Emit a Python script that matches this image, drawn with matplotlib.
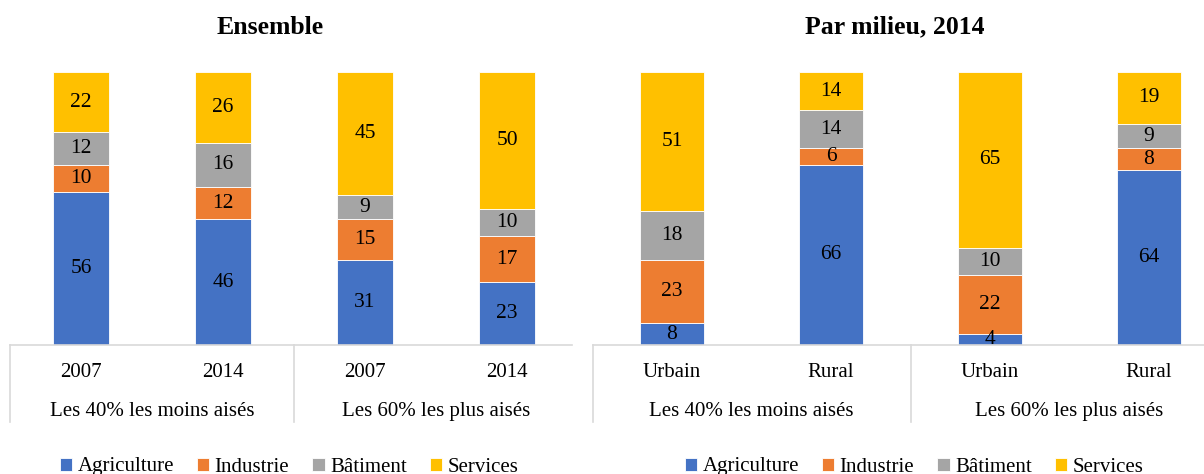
import matplotlib.pyplot as plt
import numpy as np

plt.rcParams['font.family'] = ['Liberation Serif', 'DejaVu Serif']

sectors = ['Agriculture', 'Industrie', 'Bâtiment', 'Services']
colors = ['#4472C4', '#ED7D31', '#A5A5A5', '#FFC000']
groups = ['Les 40% les moins aisés', 'Les 60% les plus aisés']

# Ensemble: 2007 / 2014 for each group
ens_ticks = ['2007', '2014', '2007', '2014']
ens_agri = [56, 46, 31, 23]
ens_indu = [10, 12, 15, 17]
ens_bati = [12, 16, 9, 10]
ens_serv = [22, 26, 45, 50]

# Par milieu, 2014: Urbain / Rural for each group
mil_ticks = ['Urbain', 'Rural', 'Urbain', 'Rural']
mil_agri = [8, 66, 4, 64]
mil_indu = [23, 6, 22, 8]
mil_bati = [18, 14, 10, 9]
mil_serv = [51, 14, 65, 19]

W, H = 1204, 474
fig = plt.figure(figsize=(W / 100, H / 100), dpi=100)

grid = '#D9D9D9'
fs = 15


def panel(rect, xmax, title, title_x, ticks, series, width):
    ax = fig.add_axes(rect)
    data = np.array(series, dtype=float)
    pct = data / data.sum(axis=0) * 100
    x = np.arange(len(ticks))
    bottom = np.zeros(len(ticks))
    for vals, raw, c, name in zip(pct, data, colors, sectors):
        ax.bar(x, vals, width, bottom=bottom, color=c, edgecolor='white',
               linewidth=0.6, label=name)
        for xi, b, v, r in zip(x, bottom, vals, raw):
            ax.text(xi, b + v / 2, f'{int(r)}', ha='center', va='center',
                    fontsize=15.5, color='black')
        bottom += vals
    ax.set_xlim(-0.5, xmax)
    ax.set_ylim(0, 100)
    for s in ['top', 'right', 'left']:
        ax.spines[s].set_visible(False)
    ax.spines['bottom'].set_color(grid)
    ax.spines['bottom'].set_linewidth(1.2)
    ax.set_xticks([])
    ax.set_yticks([])
    for xi, t in zip(x, ticks):
        ax.text(xi, -9.9, t, ha='center', va='center', fontsize=fs)
    for gi, g in enumerate(groups):
        ax.text(gi * 2 + 0.5, -24.2, g, ha='center', va='center', fontsize=fs)
    for xs in [-0.5, 1.5]:
        ax.plot([xs, xs], [0, -28.2], color=grid, lw=1.2, clip_on=False)
    fig.text(title_x / W, 1 - 27 / H, title, ha='center', va='center',
             fontsize=18.5, fontweight='bold')
    return ax


ax1 = panel([10 / W, 1 - 345 / H, 562 / W, 273 / H], 3.5 - 6 / 142,
            'Ensemble', 270, ens_ticks,
            [ens_agri, ens_indu, ens_bati, ens_serv], 0.394)
ax2 = panel([592.5 / W, 1 - 345 / H, 636 / W, 273 / H], 3.5,
            'Par milieu, 2014', 895, mil_ticks,
            [mil_agri, mil_indu, mil_bati, mil_serv], 0.40)

for ax, cx in [(ax1, 289), (ax2, 914)]:
    h, l = ax.get_legend_handles_labels()
    fig.legend(h, l, loc='center', bbox_to_anchor=(cx / W, 1 - 467 / H),
               ncol=4, frameon=False, fontsize=fs, handlelength=0.6,
               handleheight=0.6, handletextpad=0.25, columnspacing=1.1,
               borderaxespad=0, borderpad=0)

fig.savefig('out.png', dpi=100)
